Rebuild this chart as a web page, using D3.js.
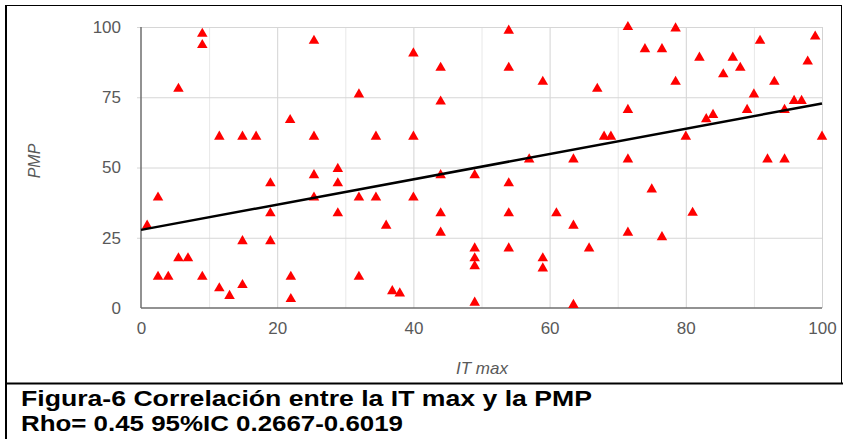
<!DOCTYPE html>
<html>
<head>
<meta charset="utf-8">
<script src="https://cdn.jsdelivr.net/npm/d3@7"></script>
<style>
  body { margin: 0; background: #fff; }
  svg { display: block; font-family: "Liberation Sans", Arial, sans-serif; }
</style>
</head>
<body>
<svg id="chart" width="843" height="442"></svg>
<script>
// data
const itMax = [0.9, 2.5, 2.5, 4.0, 5.5, 5.5, 6.9, 9.0, 9.0, 9.0,
  11.5, 11.5, 13.0, 14.9, 14.9, 14.9, 16.9, 19.0, 19.0, 19.0,
  21.9, 22.0, 22.0, 25.4, 25.4, 25.4, 25.4, 28.9, 28.9, 28.9,
  32.0, 32.0, 32.0, 34.5, 34.5, 36.0, 36.9, 38.0, 40.0, 40.0,
  40.0, 44.0, 44.0, 44.0, 44.0, 44.0, 49.0, 49.0, 49.0, 49.0,
  49.0, 54.0, 54.0, 54.0, 54.0, 54.0, 57.0, 59.0, 59.0, 59.0,
  61.0, 63.5, 63.5, 63.5, 65.8, 67.0, 68.0, 69.0, 71.5, 71.5,
  71.5, 71.5, 74.0, 75.0, 76.5, 76.5, 78.5, 78.5, 80.0, 81.0,
  82.0, 83.0, 84.0, 85.5, 86.9, 88.0, 89.0, 90.0, 90.9, 92.0,
  93.0, 94.5, 94.5, 95.9, 97.0, 97.9, 99.0, 100];
const pmp = [29.3, 39.3, 11.1, 11.1, 17.7, 78.0, 17.7, 97.6, 93.6, 11.1,
  61.0, 7.0, 4.3, 61.0, 23.8, 8.2, 61.0, 44.4, 33.7, 23.8,
  66.9, 11.1, 3.2, 95.1, 61.0, 47.3, 39.3, 49.5, 44.4, 33.7,
  76.0, 39.3, 11.1, 61.0, 39.3, 29.3, 6.0, 5.2, 90.6, 61.0,
  39.3, 85.5, 73.5, 47.3, 33.7, 26.8, 47.3, 21.2, 17.7, 14.9,
  1.9, 98.7, 85.5, 44.4, 33.7, 21.2, 52.9, 80.5, 17.7, 14.1,
  33.7, 52.9, 29.3, 1.1, 21.2, 78.0, 61.0, 61.0, 100, 70.5,
  52.9, 26.8, 92.1, 42.2, 92.1, 25.2, 99.5, 80.5, 61.0, 33.9,
  89.1, 67.2, 68.7, 83.2, 89.1, 85.5, 70.5, 76.0, 95.1, 52.9,
  80.5, 70.5, 52.9, 73.7, 73.7, 87.7, 96.6, 61.0];

const trendX = [0, 100];
const trendY = [27.8, 72.8];

const xTicks = [0, 20, 40, 60, 80, 100];
const xMinorTicks = [10, 30, 50, 70, 90];
const yTicks = [0, 25, 50, 75, 100];

const captionLines = [
  'Figura-6 Correlación entre la IT max y la PMP',
  'Rho= 0.45 95%IC 0.2667-0.6019'
];

const svg = d3.select('#chart');

const plot = { left: 141, right: 822, top: 27, bottom: 308 };
const x = d3.scaleLinear().domain([0, 100]).range([plot.left, plot.right]);
const y = d3.scaleLinear().domain([0, 100]).range([plot.bottom, plot.top]);
const plotH = plot.bottom - plot.top;
const plotW = plot.right - plot.left;

// minor vertical grid
svg.append('g')
  .attr('transform', `translate(0,${plot.bottom})`)
  .call(d3.axisBottom(x).tickValues(xMinorTicks).tickSize(-plotH).tickFormat(''))
  .call(g => g.select('.domain').remove())
  .call(g => g.selectAll('line').attr('stroke', '#e8e8e8'));

// major vertical grid
svg.append('g')
  .attr('transform', `translate(0,${plot.bottom})`)
  .call(d3.axisBottom(x).tickValues(xTicks.slice(1)).tickSize(-plotH).tickFormat(''))
  .call(g => g.select('.domain').remove())
  .call(g => g.selectAll('line').attr('stroke', '#d3d3d3'));

// horizontal grid, with short ticks outside the axis
svg.append('g')
  .attr('transform', `translate(${plot.left},0)`)
  .call(d3.axisLeft(y).tickValues(yTicks.slice(1)).tickSizeInner(-plotW).tickSizeOuter(0).tickFormat(''))
  .call(g => g.select('.domain').remove())
  .call(g => g.selectAll('line').attr('stroke', '#d6d6d6').attr('x1', -4));

// y labels
svg.append('g')
  .attr('transform', `translate(${plot.left},0)`)
  .call(d3.axisLeft(y).tickValues(yTicks).tickSize(0).tickPadding(20))
  .call(g => g.select('.domain').remove())
  .call(g => g.selectAll('text').attr('fill', '#595959').attr('font-size', 17)
    .attr('font-family', '"Liberation Sans", Arial, sans-serif'));

// x labels
svg.append('g')
  .attr('transform', `translate(0,${plot.bottom})`)
  .call(d3.axisBottom(x).tickValues(xTicks).tickSize(0).tickPadding(14))
  .call(g => g.select('.domain').remove())
  .call(g => g.selectAll('text').attr('fill', '#595959').attr('font-size', 17)
    .attr('font-family', '"Liberation Sans", Arial, sans-serif'));

// axis lines
svg.append('line')
  .attr('x1', plot.left).attr('x2', plot.left).attr('y1', plot.top).attr('y2', plot.bottom)
  .attr('stroke', '#6e6e6e').attr('stroke-width', 1.5);
svg.append('line')
  .attr('x1', plot.left).attr('x2', plot.right).attr('y1', plot.bottom).attr('y2', plot.bottom)
  .attr('stroke', '#6e6e6e').attr('stroke-width', 1.5);

// points
const points = itMax.map((v, i) => ({ x: v, y: pmp[i] }));
svg.append('g')
  .selectAll('path')
  .data(points)
  .join('path')
    .attr('d', d3.symbol().type(d3.symbolTriangle).size(48))
    .attr('transform', d => `translate(${x(d.x)},${y(d.y)})`)
    .attr('fill', '#ff0000');

// trend line
const line = d3.line().x(d => x(d[0])).y(d => y(d[1]));
svg.append('path')
  .datum(trendX.map((v, i) => [v, trendY[i]]))
  .attr('d', line)
  .attr('fill', 'none')
  .attr('stroke', '#000')
  .attr('stroke-width', 2.5);

// axis titles
svg.append('text')
  .attr('x', 482).attr('y', 374)
  .attr('text-anchor', 'middle')
  .attr('font-style', 'italic')
  .attr('font-size', 17)
  .attr('fill', '#595959')
  .text('IT max');

svg.append('text')
  .attr('transform', 'translate(40,161) rotate(-90)')
  .attr('text-anchor', 'middle')
  .attr('font-style', 'italic')
  .attr('font-size', 16)
  .attr('fill', '#595959')
  .text('PMP');

// frame
svg.append('line').attr('x1', 6).attr('x2', 6).attr('y1', 5).attr('y2', 439)
  .attr('stroke', '#000').attr('stroke-width', 2);
svg.append('line').attr('x1', 5).attr('x2', 842).attr('y1', 5.5).attr('y2', 5.5)
  .attr('stroke', '#000').attr('stroke-width', 1);
svg.append('line').attr('x1', 841.5).attr('x2', 841.5).attr('y1', 5).attr('y2', 383)
  .attr('stroke', '#000').attr('stroke-width', 1);
svg.append('line').attr('x1', 5).attr('x2', 843).attr('y1', 383.5).attr('y2', 383.5)
  .attr('stroke', '#000').attr('stroke-width', 2);

// caption
const captionWidths = [571, 382];
svg.append('g')
  .selectAll('text')
  .data(captionLines)
  .join('text')
    .attr('x', 21)
    .attr('y', (d, i) => 406 + i * 25)
    .attr('font-size', 22)
    .attr('font-weight', 'bold')
    .attr('fill', '#000')
    .attr('textLength', (d, i) => captionWidths[i])
    .attr('lengthAdjust', 'spacingAndGlyphs')
    .text(d => d);
</script>
</body>
</html>
